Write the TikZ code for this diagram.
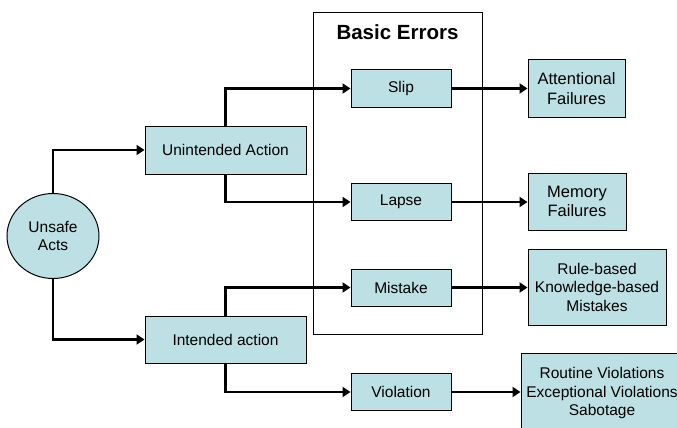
\documentclass[tikz,border=0pt]{standalone}
\usepackage{fontspec}
\setmainfont{Liberation Sans}
\usetikzlibrary{arrows.meta,shapes.geometric}
\definecolor{boxfill}{RGB}{188,224,228}
\tikzset{
  box/.style={draw,fill=boxfill,line width=1pt,inner sep=0pt,align=center,
    font=\fontsize{15.5}{18.5}\selectfont},
  bigbox/.style={box,font=\fontsize{16.5}{19.5}\selectfont},
  link/.style={line width=2.6pt,-{Triangle[length=8pt,width=10pt]}},
}
\begin{document}
\begin{tikzpicture}[x=1pt,y=-1pt]
\useasboundingbox (0,0) rectangle (677,428);
% frame round the basic errors
\node[draw,line width=1pt,minimum width=169pt,minimum height=321pt,inner sep=0pt] (frame) at (397.5,173.5) {};
\node[font=\bfseries\fontsize{20.5}{24}\selectfont] (title) at (397.5,32) {Basic Errors};
% left part
\node[box,ellipse,minimum width=92pt,minimum height=85pt] (acts) at (53,236) {Unsafe\\Acts};
\node[box,minimum width=161pt,minimum height=48pt] (unint) at (225.5,150) {Unintended Action};
\node[box,minimum width=161pt,minimum height=47pt] (int) at (225.5,339.5) {Intended action};
% error types
\node[box,minimum width=100pt,minimum height=37pt] (slip) at (401,88.5) {Slip};
\node[box,minimum width=100pt,minimum height=37pt] (lapse) at (401,202) {Lapse};
\node[box,minimum width=100pt,minimum height=37pt] (mistake) at (401,287.5) {Mistake};
\node[box,minimum width=100pt,minimum height=37pt] (violation) at (401,392) {Violation};
% right column
\node[bigbox,minimum width=97pt,minimum height=57pt] (attn) at (576.5,88.5) {Attentional\\Failures};
\node[bigbox,minimum width=98pt,minimum height=57pt] (memory) at (577,201.5) {Memory\\Failures};
\node[box,minimum width=138pt,minimum height=76pt] (rule) at (597,287) {Rule-based\\Knowledge-based\\Mistakes};
\node[box,minimum width=162pt,minimum height=80pt] (routine) at (602,393) {Routine Violations\\Exceptional Violations\\Sabotage};
% connectors
\draw[link] (acts.north) |- (unint.west);
\draw[link] (acts.south) |- (int.west);
\draw[link] (unint.north) |- (slip.west);
\draw[link] (unint.south) |- (lapse.west);
\draw[link] (int.north) |- (mistake.west);
\draw[link] (int.south) |- (violation.west);
\draw[link] (slip.east) -- (slip.east -| attn.west);
\draw[link] (lapse.east) -- (lapse.east -| memory.west);
\draw[link] (mistake.east) -- (mistake.east -| rule.west);
\draw[link] (violation.east) -- (violation.east -| routine.west);
\end{tikzpicture}
\end{document}
